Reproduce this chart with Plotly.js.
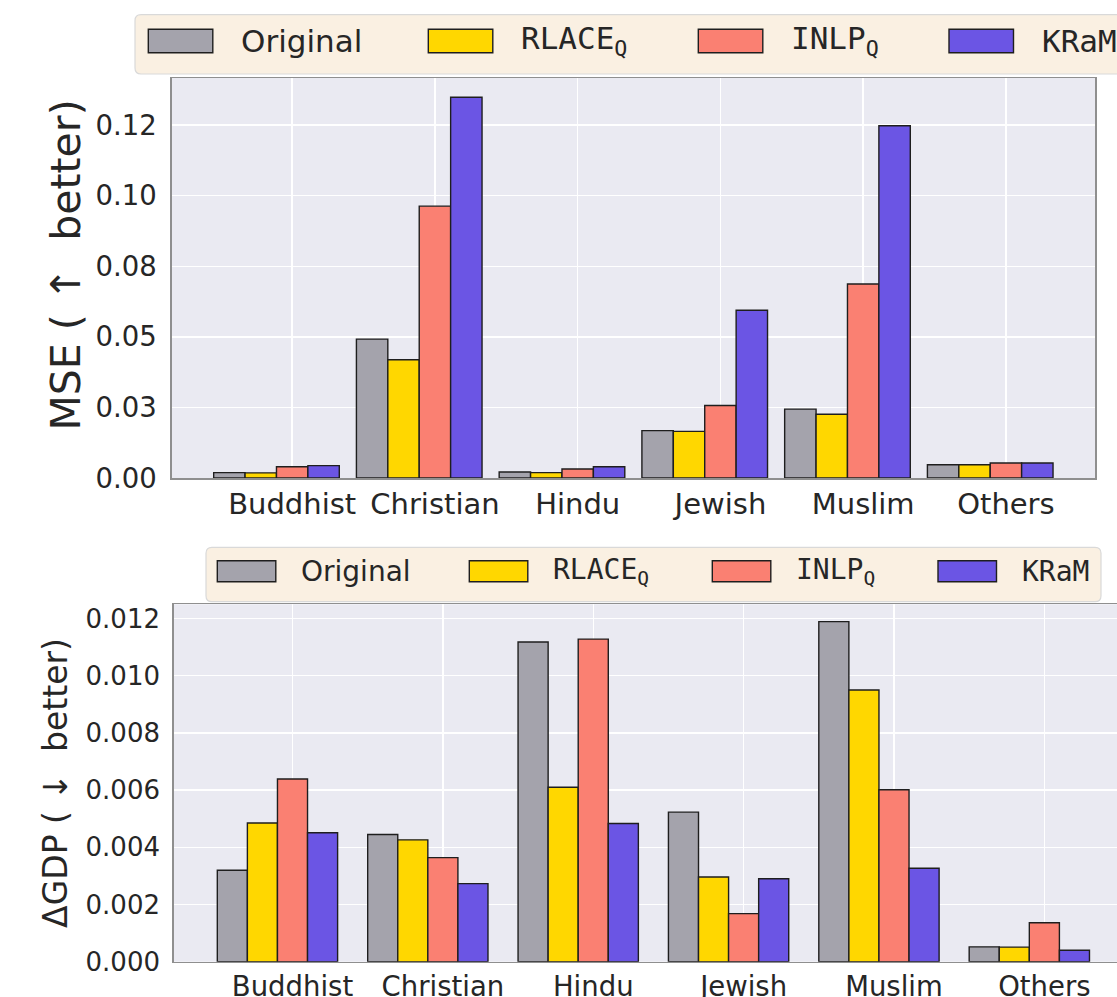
<!DOCTYPE html>
<html>
<head>
<meta charset="utf-8">
<script src="https://cdn.plot.ly/plotly-3.0.1.min.js"></script>
<style>html,body{margin:0;padding:0;background:#fff;}#chart{width:1117px;height:997px;}</style>
</head>
<body>
<div id="chart"></div>
<script>
// ---------- data ----------
const categories = ['Buddhist', 'Christian', 'Hindu', 'Jewish', 'Muslim', 'Others'];
const methods = ['Original', 'RLACE<sub>Q</sub>', 'INLP<sub>Q</sub>', 'KRaM'];
const colors = ['#a4a3ac', '#ffd700', '#fa8072', '#6b55e4'];

const mseOriginal = [0.0019, 0.0492, 0.0021, 0.0168, 0.0244, 0.0047];
const mseRlace    = [0.0018, 0.0419, 0.0019, 0.0165, 0.0226, 0.0047];
const mseInlp     = [0.0040, 0.0963, 0.0032, 0.0257, 0.0687, 0.0053];
const mseKram     = [0.0044, 0.1349, 0.0040, 0.0594, 0.1248, 0.0053];

const gdpOriginal = [0.00320, 0.00445, 0.01118, 0.00523, 0.01189, 0.00052];
const gdpRlace    = [0.00485, 0.00426, 0.00610, 0.00296, 0.00950, 0.00051];
const gdpInlp     = [0.00639, 0.00364, 0.01128, 0.00168, 0.00601, 0.00136];
const gdpKram     = [0.00451, 0.00273, 0.00483, 0.00290, 0.00327, 0.00040];

const mseTickVals = [0, 0.025, 0.05, 0.075, 0.1, 0.125];
const mseTickText = ['0.00', '0.03', '0.05', '0.08', '0.10', '0.12'];
const gdpTickVals = [0, 0.002, 0.004, 0.006, 0.008, 0.010, 0.012];
const gdpTickText = ['0.000', '0.002', '0.004', '0.006', '0.008', '0.010', '0.012'];

// ---------- helpers ----------
const W = 1117, H = 997;
const px = x => x / W;
const py = y => 1 - y / H;
const TXT = '#262626';
const FONT = 'DejaVu Sans';
const MONO = 'DejaVu Sans Mono';
const idx = categories.map((_, i) => i);

const mseSeries = [mseOriginal, mseRlace, mseInlp, mseKram];
const gdpSeries = [gdpOriginal, gdpRlace, gdpInlp, gdpKram];

const traces = [];
mseSeries.forEach((vals, i) => {
  const w = 0.22;
  traces.push({
    type: 'bar', x: idx, y: vals, name: methods[i], xaxis: 'x', yaxis: 'y',
    width: w, offset: (i - 2.5) * w,
    marker: {color: colors[i], line: {color: '#1e1e1e', width: 1.4}},
    showlegend: false, hoverinfo: 'skip'
  });
});
gdpSeries.forEach((vals, i) => {
  const w = 0.2;
  traces.push({
    type: 'bar', x: idx, y: vals, name: methods[i], xaxis: 'x2', yaxis: 'y2',
    width: w, offset: (i - 2.5) * w,
    marker: {color: colors[i], line: {color: '#1e1e1e', width: 1.4}},
    showlegend: false, hoverinfo: 'skip'
  });
});

function roundRect(x0, y0, x1, y1, r) {
  const P = (x, y) => px(x).toFixed(5) + ',' + py(y).toFixed(5);
  return 'M' + P(x0 + r, y0) + ' L' + P(x1 - r, y0) + ' Q' + P(x1, y0) + ' ' + P(x1, y0 + r) +
    ' L' + P(x1, y1 - r) + ' Q' + P(x1, y1) + ' ' + P(x1 - r, y1) +
    ' L' + P(x0 + r, y1) + ' Q' + P(x0, y1) + ' ' + P(x0, y1 - r) +
    ' L' + P(x0, y0 + r) + ' Q' + P(x0, y0) + ' ' + P(x0 + r, y0) + ' Z';
}

const shapes = [];
const annotations = [];
function addLegend(box, patchX, patchW, patchY0, patchY1, textGap, fontSize) {
  shapes.push({type: 'path', xref: 'paper', yref: 'paper', path: roundRect(box[0], box[1], box[2], box[3], 6),
    fillcolor: '#faf0e2', line: {color: '#d9d9d9', width: 1.2}, layer: 'above'});
  methods.forEach((m, i) => {
    shapes.push({type: 'rect', xref: 'paper', yref: 'paper',
      x0: px(patchX[i]), x1: px(patchX[i] + patchW), y0: py(patchY1), y1: py(patchY0),
      fillcolor: colors[i], line: {color: '#1e1e1e', width: 1.4}, layer: 'above'});
    annotations.push({xref: 'paper', yref: 'paper', x: px(patchX[i] + patchW + textGap), y: py((patchY0 + patchY1) / 2),
      xanchor: 'left', yanchor: 'middle', showarrow: false, text: m,
      font: {family: i === 0 ? FONT : MONO, size: fontSize, color: TXT}});
  });
}
addLegend([135, 14.7, 1160, 74], [148.3, 428.3, 698.3, 949], 64.5, 29.3, 52.7, 26, 31);
addLegend([206, 547.3, 1101, 601.7], [217.3, 469.3, 712.3, 938], 58.5, 560.7, 581.7, 23.5, 28);

const axisCommon = {
  showgrid: true, gridcolor: '#ffffff', gridwidth: 1.5, zeroline: false,
  showline: true, linecolor: '#8f8f8f', linewidth: 1.5, ticks: '',
};

const pad = '<span style="color:rgba(0,0,0,0)">..</span>';

const layout = {
  width: W, height: H,
  margin: {l: 0, r: 0, t: 0, b: 0},
  paper_bgcolor: '#ffffff', plot_bgcolor: '#eaeaf2',
  font: {family: FONT, color: TXT},
  barmode: 'overlay',
  xaxis: Object.assign({}, axisCommon, {
    domain: [px(171.7), px(1095)], range: [-0.844, 5.624], anchor: 'y', mirror: true,
    tickvals: idx, ticktext: categories, tickfont: {size: 29, color: TXT, family: FONT}, ticklabelstandoff: 0
  }),
  yaxis: Object.assign({}, axisCommon, {
    domain: [py(478), py(78)], range: [0, 0.1417], anchor: 'x', mirror: true,
    tickvals: mseTickVals, ticktext: mseTickText, tickfont: {size: 27.5, color: TXT, family: FONT}, ticklabelstandoff: 8,
    title: {text: pad + 'MSE ( \u2191\u00a0 better)', font: {size: 41, color: TXT, family: FONT}, standoff: 2}
  }),
  xaxis2: Object.assign({}, axisCommon, {
    domain: [px(173.7), 1], range: [-0.79, 5.483], anchor: 'y2', mirror: true,
    tickvals: idx, ticktext: categories, tickfont: {size: 27.5, color: TXT, family: FONT}, ticklabelstandoff: 0
  }),
  yaxis2: Object.assign({}, axisCommon, {
    domain: [py(961.7), py(604.3)], range: [0, 0.012497], anchor: 'x2', mirror: false,
    tickvals: gdpTickVals, ticktext: gdpTickText, tickfont: {size: 26, color: TXT, family: FONT}, ticklabelstandoff: 7,
    title: {text: '\u0394GDP ( \u2193\u00a0 better)', font: {size: 33, color: TXT, family: FONT}, standoff: 8}
  }),
  shapes: shapes,
  annotations: annotations,
  showlegend: false
};

Plotly.newPlot('chart', traces, layout, {displayModeBar: false, staticPlot: true});
</script>
</body>
</html>
